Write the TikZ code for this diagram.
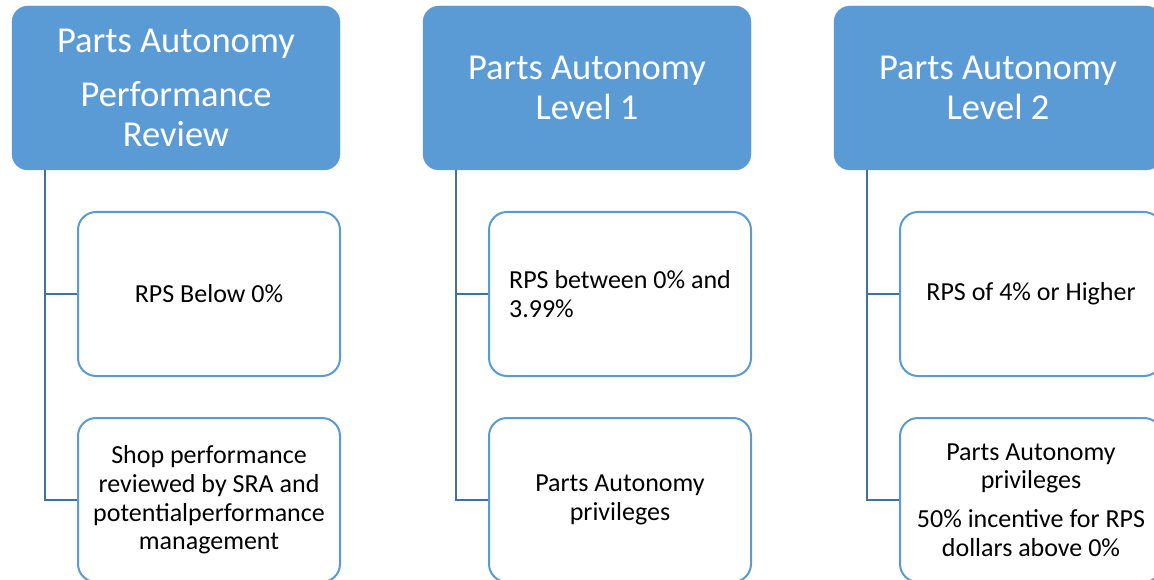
\documentclass[tikz,border=0pt]{standalone}
\usepackage{fontspec}
\setmainfont{Carlito}
\usepackage{tikz}
\definecolor{headblue}{HTML}{5B9BD5}
\definecolor{tieblue}{HTML}{41719C}

\begin{document}
\begin{tikzpicture}[x=1pt,y=-1pt,
   head/.style={fill=headblue,draw=headblue,rounded corners=16pt,minimum width=328pt,minimum height=164pt,
      text=white,align=center,font=\fontsize{36.5}{40}\selectfont},
   item/.style={draw=headblue,line width=2pt,fill=white,rounded corners=18pt,minimum width=262pt,minimum height=164pt,
      align=center,font=\fontsize{26}{28.7}\selectfont},
   tie/.style={draw=tieblue,line width=2.5pt}]
   \useasboundingbox (0,0) rectangle (1154,580);
   \node[head] (review) at (176,88) {Parts Autonomy\\[14pt] Performance\\ Review};
   \node[head] (levelone) at (587,88) {Parts Autonomy\\ Level 1};
   \node[head] (leveltwo) at (998,88) {Parts Autonomy\\ Level 2};
   \coordinate (reviewstem) at (45,170);
   \coordinate (levelonestem) at (456,170);
   \coordinate (leveltwostem) at (867,170);
   \node[item] (belowzero) at (209,294) {RPS Below 0\%};
   \node[item] (shopreview) at (209,500) {Shop performance\\ reviewed by SRA and\\ potentialperformance\\ management};
   \node[item,align=left] (between) at (620,294) {RPS between 0\% and\\ 3.99\%};
   \node[item] (privone) at (620,500) {Parts Autonomy\\ privileges};
   \node[item] (fourup) at (1031,294) {RPS of 4\% or Higher};
   \node[item] (privtwo) at (1031,500) {Parts Autonomy\\ privileges\\[10pt] 50\% incentive for RPS\\ dollars above 0\%};
   \draw[tie] (reviewstem) |- (belowzero.west);
   \draw[tie] (reviewstem) |- (shopreview.west);
   \draw[tie] (levelonestem) |- (between.west);
   \draw[tie] (levelonestem) |- (privone.west);
   \draw[tie] (leveltwostem) |- (fourup.west);
   \draw[tie] (leveltwostem) |- (privtwo.west);
\end{tikzpicture}
\end{document}
